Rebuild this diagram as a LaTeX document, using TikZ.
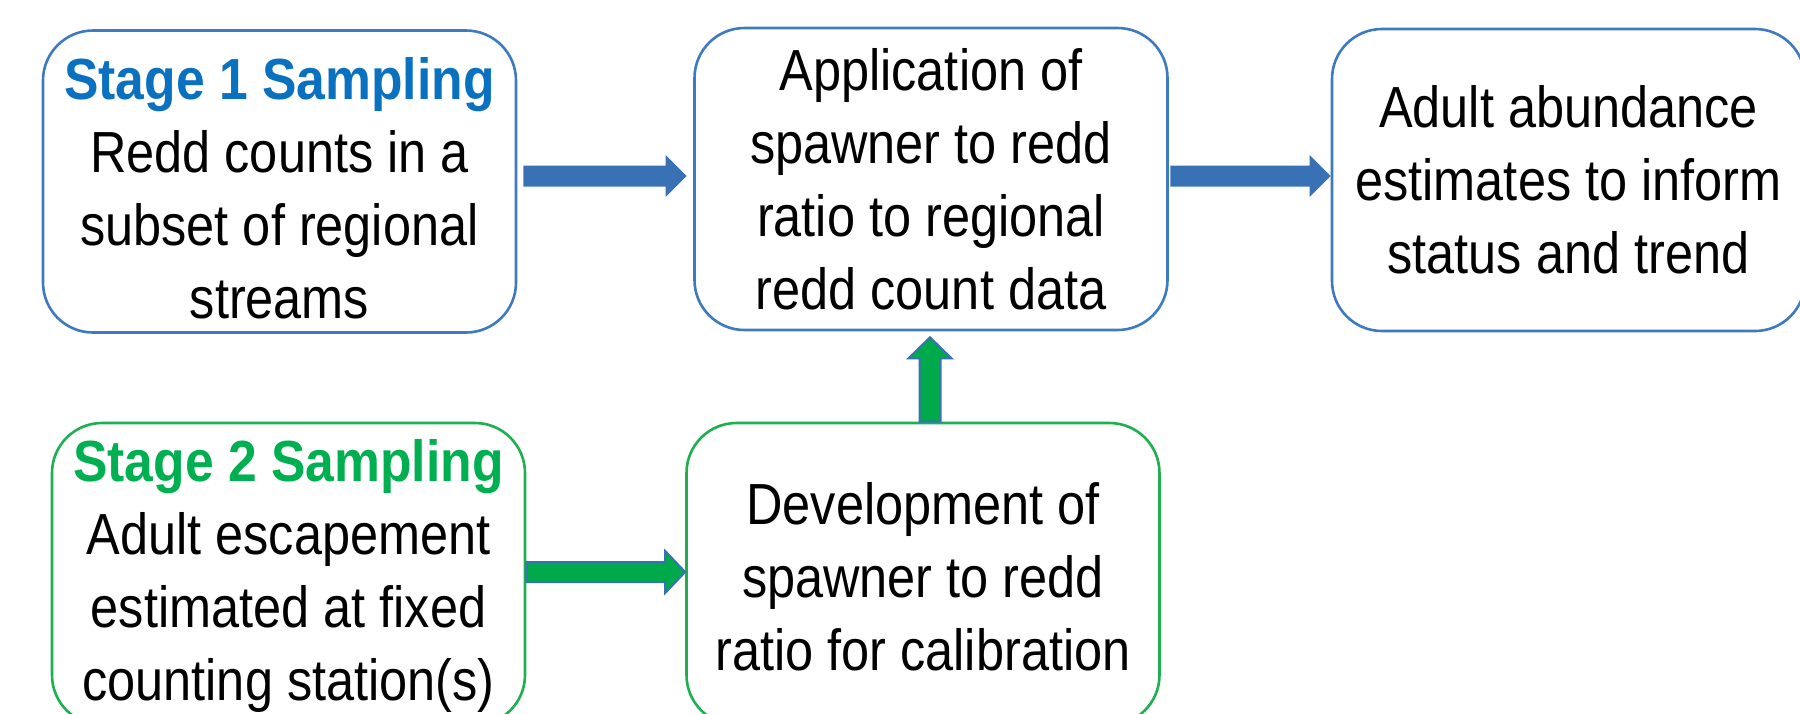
\documentclass[tikz,border=0pt]{standalone}
\usepackage{fontspec}
\setmainfont{Liberation Sans}[FakeStretch=0.87, BoldFeatures={FakeStretch=0.89}]
\usetikzlibrary{calc}
\definecolor{boxblue}{RGB}{62,122,192}
\definecolor{boxgreen}{RGB}{30,176,80}
\definecolor{titleblue}{RGB}{10,112,192}
\definecolor{titlegreen}{RGB}{0,176,80}
\definecolor{arrblue}{RGB}{56,114,180}
\definecolor{arrgreen}{RGB}{0,170,75}
\newcommand\hblock[6]{\path[#1] let \p1=#2, \p2=#3 in
  (\x1,\y1+#4) -- (\x2-#6,\y1+#4) -- (\x2-#6,\y1+#5) -- (\x2,\y1) --
  (\x2-#6,\y1-#5) -- (\x2-#6,\y1-#4) -- (\x1,\y1-#4) -- cycle;}
\newcommand\vblock[6]{\path[#1] let \p1=#2, \p2=#3 in
  (\x1-#4,\y1) -- (\x1-#4,\y2-#6) -- (\x1-#5,\y2-#6) -- (\x1,\y2) --
  (\x1+#5,\y2-#6) -- (\x1+#4,\y2-#6) -- (\x1+#4,\y1) -- cycle;}
\begin{document}
\begin{tikzpicture}[x=0.5pt,y=-0.5pt,
  flowbox/.style={draw, line width=1.3pt, rounded corners=25pt, fill=white,
    minimum width=236.5pt, minimum height=151pt, inner sep=0pt,
    align=center, font=\fontsize{29}{36.5}\selectfont},
  bluebox/.style={flowbox, draw=boxblue},
  greenbox/.style={flowbox, draw=boxgreen},
  bluearrow/.style={fill=arrblue},
  greenarrow/.style={fill=arrgreen, draw=arrblue, line width=1pt}]
\useasboundingbox[fill=white] (0,0) rectangle (1800,713);
\coordinate (row1) at (0,176);
\coordinate (row2) at (0,572);
\coordinate (col) at (930,0);
\node[bluebox] (s1) at (279.5,181.5)
  {{\bfseries\color{titleblue}\rule{0pt}{28pt}Stage 1 Sampling}\\Redd counts in a\\subset of regional\\streams};
\node[bluebox] (app) at (931,179)
  {Application of\\spawner to redd\\ratio to regional\\redd count data};
\node[bluebox] (adult) at (1568.5,180)
  {Adult abundance\\estimates to inform\\status and trend};
\node[greenbox] (s2) at (288.5,574)
  {{\bfseries\color{titlegreen}\rule{0pt}{23.5pt}Stage 2 Sampling}\\Adult escapement\\estimated at fixed\\counting station(s)};
\node[greenbox] (dev) at (923,574)
  {\rule{0pt}{24pt}Development of\\spawner to redd\\ratio for calibration};
\hblock{bluearrow}{($(s1.east|-row1)+(6,0)$)}{($(app.west|-row1)+(-6.5,0)$)}{5.25pt}{10.5pt}{10.5pt}
\hblock{bluearrow}{($(app.east|-row1)+(1.5,0)$)}{(adult.west|-row1)}{5.25pt}{10.5pt}{10.5pt}
\vblock{greenarrow}{(dev.north-|col)}{($(app.south-|col)+(0,6)$)}{5.25pt}{10.75pt}{10.5pt}
\hblock{greenarrow}{(s2.east|-row2)}{(dev.west|-row2)}{5pt}{10.5pt}{10pt}
\end{tikzpicture}
\end{document}
